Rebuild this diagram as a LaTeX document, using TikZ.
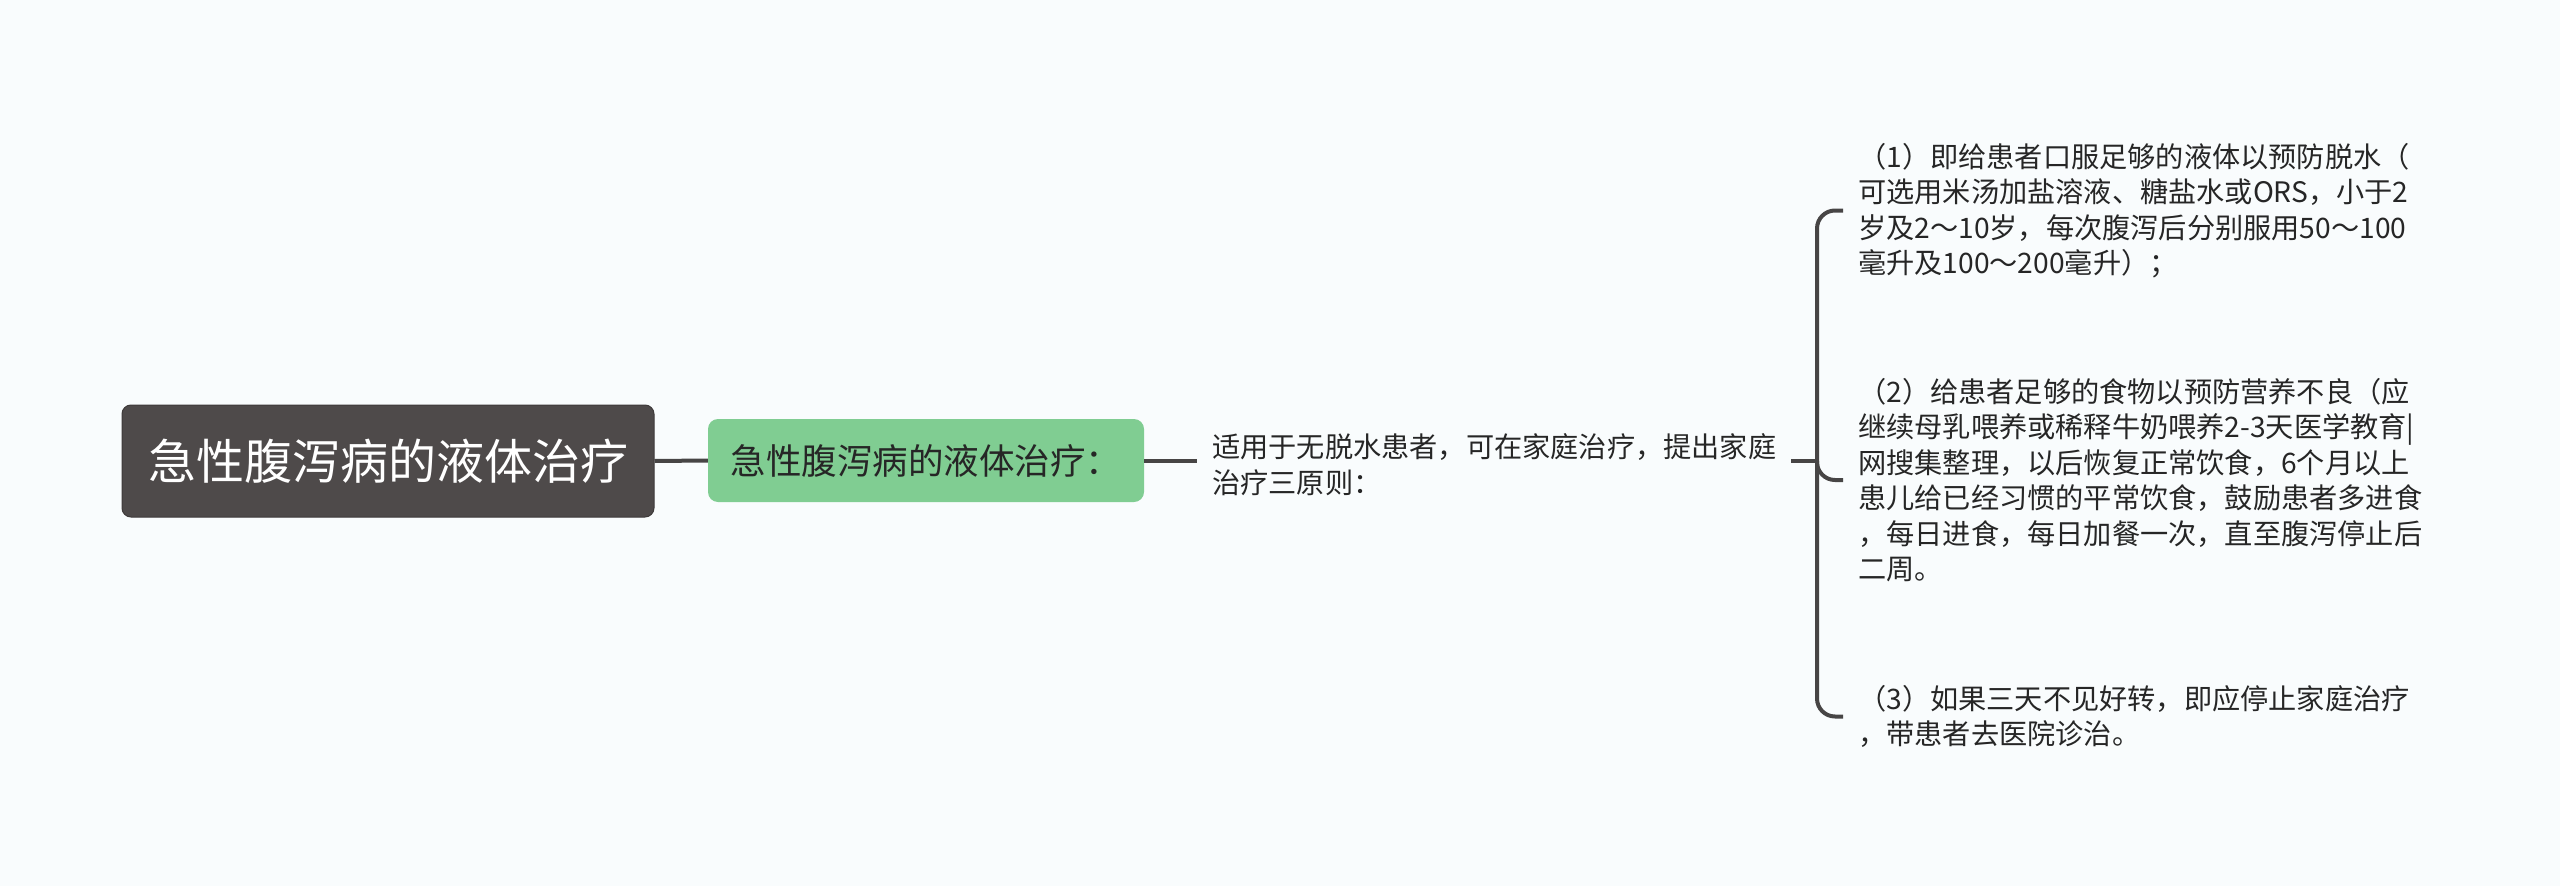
\documentclass[tikz,border=0pt]{standalone}
\usepackage{fontspec}
\newfontfamily\cjk{Noto Sans CJK SC}
\definecolor{bgc}{HTML}{F9FCFD}
\definecolor{rootc}{HTML}{4E4A4A}
\definecolor{rootb}{HTML}{3E3A3A}
\definecolor{greenc}{HTML}{80CD92}
\definecolor{linec}{HTML}{474545}
\definecolor{textc}{HTML}{262626}
\tikzset{
  conn/.style={draw=linec, line width=4pt},
  rootbox/.style={fill=rootc, draw=rootb, line width=1pt, rounded corners=9pt,
    minimum width=532pt, minimum height=112pt, inner sep=0pt, text=white,
    font=\cjk\fontsize{48}{56}\selectfont},
  subbox/.style={fill=greenc, rounded corners=10pt, minimum width=436pt,
    minimum height=83pt, inner sep=0pt, text=textc,
    font=\cjk\fontsize{35.5}{42}\selectfont},
  leaf/.style={anchor=west, inner xsep=15pt, inner ysep=0pt, align=left,
    text=textc, font=\cjk\fontsize{28.2}{35.5}\selectfont},
}
\begin{document}
\begin{tikzpicture}[x=1pt,y=-1pt]
\useasboundingbox (0,0) rectangle (2560,886);
\fill[bgc] (0,0) rectangle (2560,886);

\node[rootbox] (root) at (388,461) {急性腹泻病的液体治疗};
\node[subbox] (sub) at (926,460.5) {急性腹泻病的液体治疗：};
\node[leaf] (mid) at (1197,464.5) {适用于无脱水患者，可在家庭治疗，提出家庭\\治疗三原则：};

\node[leaf] (b1) at (1843,210.5) {（1）即给患者口服足够的液体以预防脱水（\\可选用米汤加盐溶液、糖盐水或ORS，小于2\\岁及2～10岁，每次腹泻后分别服用50～100\\毫升及100～200毫升）；};
\node[leaf] (b2) at (1843,480) {（2）给患者足够的食物以预防营养不良（应\\继续母乳喂养或稀释牛奶喂养2-3天医学教育|\\网搜集整理，以后恢复正常饮食，6个月以上\\患儿给已经习惯的平常饮食，鼓励患者多进食\\，每日进食，每日加餐一次，直至腹泻停止后\\二周。};
\node[leaf] (b3) at (1843,716.5) {（3）如果三天不见好转，即应停止家庭治疗\\，带患者去医院诊治。};

\coordinate (br) at (1817,461);

\draw[conn] (root.east) -- (sub.west);
\draw[conn] (sub.east) -- (sub.east -| mid.west);
\draw[conn] (mid.east |- br) -- (br);
\draw[conn, rounded corners=18pt] (b1.west) -| (br |- b3.west) -- (b3.west);
\draw[conn, rounded corners=18pt] (br) |- (b2.west);
\end{tikzpicture}
\end{document}
